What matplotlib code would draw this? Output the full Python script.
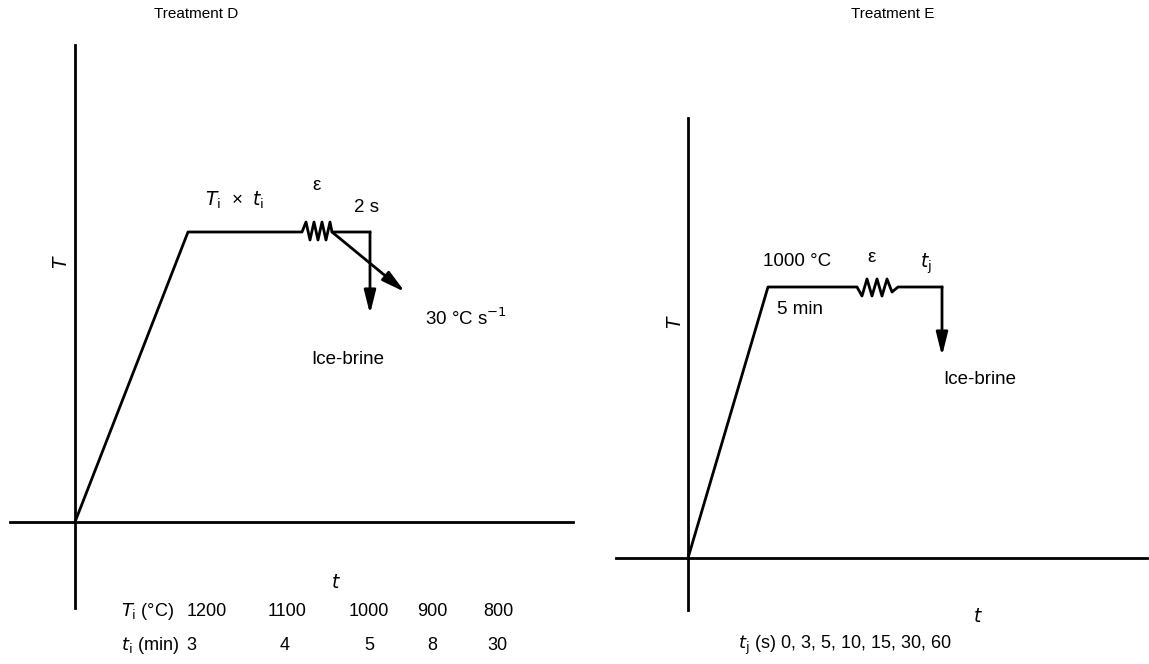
import matplotlib.pyplot as plt

plt.rcParams['font.family'] = ['Liberation Sans', 'DejaVu Sans']

# schematic profiles (t, T) measured from each panel's axis origin
d_profile_t = [0, 113, 227, 231, 235, 239, 243, 247, 251, 255, 257, 295]
d_profile_T = [0, 290, 290, 300, 282, 300, 282, 300, 282, 300, 290, 290]
d_quench_t = [295, 295]
d_quench_T = [290, 208]
d_cool_t = [257, 330]
d_cool_T = [290, 230]

e_profile_t = [0, 80, 169, 174, 179, 184, 189, 194, 199, 204, 210, 254]
e_profile_T = [0, 271, 271, 262, 279, 262, 279, 262, 279, 266, 271, 271]
e_quench_t = [254, 254]
e_quench_T = [271, 202]

d_temps = ["1200", "1100", "1000", "900", "800"]
d_temp_x = [207, 287, 369, 432, 498]
d_times = ["3", "4", "5", "8", "30"]
d_time_x = [191, 285, 369, 432, 497]
e_times = "0, 3, 5, 10, 15, 30, 60"

fig = plt.figure(figsize=(11.49, 6.64), dpi=100)
ax = fig.add_axes([0, 0, 1, 1])
ax.set_xlim(0, 1149)
ax.set_ylim(664, 0)
ax.axis("off")

lw = 2.0
fs = 13.5
fs_row = 13

def panel(ox, oy, x_left, x_right, y_top, y_bot, pt, pT):
    ax.plot([x_left, x_right], [oy, oy], color="black", lw=lw)
    ax.plot([ox, ox], [y_top, y_bot], color="black", lw=lw)
    ax.plot([ox + t for t in pt], [oy - T for T in pT], color="black", lw=lw)

def arrow(ox, oy, ts, Ts):
    ax.annotate("", xy=(ox + ts[1], oy - Ts[1]), xytext=(ox + ts[0], oy - Ts[0]),
                arrowprops=dict(arrowstyle="-|>,head_length=1.4,head_width=0.35",
                                color="black", lw=lw, shrinkA=0, shrinkB=0))

# Treatment D
ox, oy = 75, 522
panel(ox, oy, 10, 573, 45, 608, d_profile_t, d_profile_T)
arrow(ox, oy, d_quench_t, d_quench_T)
arrow(ox, oy, d_cool_t, d_cool_T)
ax.text(196, 14, "Treatment D", ha="center", va="center", fontsize=11)
ax.text(62, 262, "$T$", ha="center", va="center", fontsize=fs, rotation=90)
ax.text(336, 583, "$t$", ha="center", va="center", fontsize=fs)
ax.text(235, 200, r"$T_{\mathrm{i}}$  ×  $t_{\mathrm{i}}$", ha="center", va="center", fontsize=fs)
ax.text(317, 186, "ε", ha="center", va="center", fontsize=fs)
ax.text(366, 207, "2 s", ha="center", va="center", fontsize=fs)
ax.text(425, 318, "30 °C s$^{-1}$", ha="left", va="center", fontsize=fs)
ax.text(348, 360, "Ice-brine", ha="center", va="center", fontsize=fs)
ax.text(121, 612, r"$T_{\mathrm{i}}$ (°C)", ha="left", va="center", fontsize=fs_row)
ax.text(121, 645, r"$t_{\mathrm{i}}$ (min)", ha="left", va="center", fontsize=fs_row)
for x, temp in zip(d_temp_x, d_temps):
    ax.text(x, 612, temp, ha="center", va="center", fontsize=fs_row)
for x, tm in zip(d_time_x, d_times):
    ax.text(x, 645, tm, ha="center", va="center", fontsize=fs_row)

# Treatment E
ox, oy = 688, 558
panel(ox, oy, 616, 1147, 118, 610, e_profile_t, e_profile_T)
arrow(ox, oy, e_quench_t, e_quench_T)
ax.text(893, 14, "Treatment E", ha="center", va="center", fontsize=11)
ax.text(676, 322, "$T$", ha="center", va="center", fontsize=fs, rotation=90)
ax.text(978, 617, "$t$", ha="center", va="center", fontsize=fs)
ax.text(797, 262, "1000 °C", ha="center", va="center", fontsize=fs)
ax.text(800, 310, "5 min", ha="center", va="center", fontsize=fs)
ax.text(872, 257, "ε", ha="center", va="center", fontsize=fs)
ax.text(926, 264, r"$t_{\mathrm{j}}$", ha="center", va="center", fontsize=fs)
ax.text(980, 380, "Ice-brine", ha="center", va="center", fontsize=fs)
ax.text(845, 645, r"$t_{\mathrm{j}}$ (s) " + e_times, ha="center", va="center", fontsize=fs_row)

fig.savefig("out.png", dpi=100)
